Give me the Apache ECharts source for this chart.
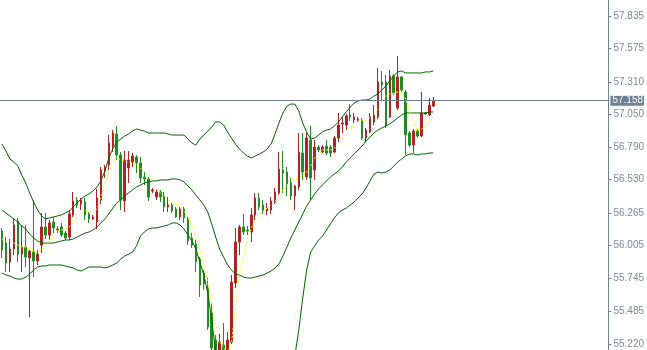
<!DOCTYPE html>
<html><head><meta charset="utf-8">
<script src="https://cdn.jsdelivr.net/npm/echarts@6/dist/echarts.min.js"></script>
<style>html,body{margin:0;padding:0;background:#fff;}#c{width:647px;height:350px;}</style>
</head><body><div id="c"></div>
<script>
const slotCount = 154;
const categories = Array.from({length: slotCount}, (_, i) => 'B' + i);
const opens = [
56.121,56.025,55.874,55.977,56.201,55.937,55.993,55.905,55.953,55.882,
56.009,56.153,56.089,56.193,56.137,56.153,56.105,56.073,56.249,56.368,
56.336,56.352,56.257,56.217,56.193,56.368,56.599,56.647,56.798,56.894,
56.727,56.360,56.623,56.671,56.711,56.663,56.552,56.536,56.440,56.392,
56.432,56.400,56.312,56.328,56.296,56.233,56.296,56.217,56.065,56.017,
55.897,55.786,55.674,55.467,55.252,55.140,55.212,55.124,55.236,55.706,
56.033,56.153,56.129,56.113,56.249,56.384,56.328,56.280,56.288,56.352,
56.424,56.607,56.591,56.504,56.400,56.472,56.743,56.552,56.846,56.607,
56.790,56.751,56.798,56.790,56.751,56.862,56.974,56.966,57.046,57.006,
56.998,57.006,56.862,56.910,56.990,57.030,57.309,57.309,57.030,57.357,
57.101,57.349,57.229,56.902,56.806,56.918,56.878,57.054,57.046,57.117];
const closes = [
55.969,55.866,55.977,56.169,55.937,55.993,55.913,55.961,55.882,55.937,
56.153,56.089,56.185,56.145,56.129,56.089,56.065,56.257,56.360,56.328,
56.368,56.249,56.217,56.233,56.384,56.607,56.631,56.822,56.902,56.727,
56.368,56.687,56.687,56.719,56.663,56.544,56.536,56.392,56.448,56.432,
56.392,56.312,56.328,56.280,56.233,56.296,56.225,56.041,56.009,55.874,
55.690,55.698,55.355,55.188,55.132,55.236,55.124,55.252,55.714,56.033,
56.153,56.113,56.121,56.249,56.384,56.312,56.280,56.304,56.360,56.432,
56.615,56.583,56.496,56.400,56.480,56.751,56.591,56.862,56.544,56.790,
56.767,56.790,56.743,56.743,56.862,56.966,56.982,57.038,57.030,57.030,
57.014,56.862,56.926,57.030,57.046,57.309,57.285,56.958,57.357,57.221,
57.349,57.245,56.886,56.806,56.918,56.878,57.062,57.062,57.125,57.158];
const lows = [
55.905,55.794,55.794,55.929,55.874,55.794,55.834,55.435,55.754,55.850,
55.945,56.057,56.049,56.105,56.105,56.073,56.049,56.049,56.233,56.304,
56.288,56.209,56.185,56.209,56.137,56.336,56.544,56.607,56.751,56.687,
56.288,56.272,56.504,56.631,56.583,56.504,56.488,56.360,56.424,56.368,
56.352,56.272,56.272,56.265,56.225,56.209,56.185,56.009,55.985,55.794,
55.595,55.651,55.332,55.156,55.092,55.108,55.076,55.092,55.220,55.666,
55.929,56.089,56.089,56.033,56.209,56.288,56.257,56.249,56.257,56.336,
56.408,56.424,56.400,56.368,56.288,56.448,56.528,56.528,56.368,56.528,
56.751,56.743,56.727,56.711,56.743,56.830,56.902,56.926,56.998,56.982,
56.990,56.846,56.830,56.902,56.966,57.014,57.165,56.942,57.022,57.205,
57.086,57.229,56.727,56.790,56.743,56.862,56.870,57.046,57.038,57.110];
const highs = [
56.145,56.073,56.057,56.225,56.225,56.169,56.169,55.969,56.368,55.969,
56.265,56.265,56.209,56.233,56.161,56.185,56.121,56.288,56.432,56.392,
56.384,56.384,56.272,56.249,56.456,56.631,56.647,56.886,56.926,56.958,
56.751,56.759,56.759,56.743,56.727,56.711,56.591,56.552,56.464,56.448,
56.448,56.432,56.392,56.344,56.312,56.312,56.312,56.233,56.105,56.049,
55.913,55.810,55.746,55.547,55.292,55.300,55.387,55.316,55.770,56.145,
56.169,56.257,56.161,56.304,56.424,56.424,56.368,56.344,56.392,56.464,
56.751,56.759,56.631,56.544,56.488,56.902,56.902,56.902,56.958,56.846,
56.806,56.806,56.846,56.806,56.878,57.062,57.030,57.054,57.133,57.062,
57.030,57.022,56.942,57.062,57.125,57.421,57.397,57.365,57.405,57.373,
57.516,57.357,57.245,56.918,56.934,56.934,57.229,57.070,57.181,57.189];
const upperBand = [
56.814,56.759,56.695,56.671,56.639,56.567,56.504,56.424,56.352,56.288,
56.241,56.217,56.225,56.233,56.241,56.249,56.265,56.280,56.312,56.344,
56.376,56.400,56.416,56.440,56.472,56.520,56.599,56.703,56.775,56.830,
56.854,56.878,56.894,56.918,56.934,56.926,56.918,56.902,56.902,56.902,
56.902,56.902,56.894,56.886,56.886,56.886,56.886,56.854,56.822,56.806,
56.854,56.886,56.918,56.950,56.990,56.990,56.966,56.910,56.862,56.814,
56.775,56.743,56.719,56.703,56.719,56.735,56.751,56.775,56.814,56.894,
56.982,57.062,57.117,57.133,57.133,57.078,56.982,56.910,56.854,56.862,
56.886,56.910,56.926,56.934,56.958,56.990,57.030,57.070,57.109,57.141,
57.157,57.165,57.165,57.173,57.197,57.213,57.245,57.277,57.317,57.357,
57.389,57.397,57.381,57.381,57.381,57.381,57.381,57.389,57.389,57.397];
const middleBand = [
56.288,56.265,56.241,56.217,56.193,56.161,56.137,56.097,56.065,56.041,
56.025,56.025,56.025,56.025,56.033,56.041,56.049,56.049,56.057,56.073,
56.089,56.105,56.113,56.129,56.153,56.185,56.217,56.257,56.304,56.344,
56.368,56.400,56.424,56.448,56.472,56.488,56.504,56.512,56.520,56.520,
56.528,56.528,56.528,56.536,56.536,56.528,56.512,56.480,56.448,56.408,
56.368,56.328,56.272,56.177,56.073,55.977,55.913,55.850,55.810,55.778,
55.770,55.754,55.746,55.746,55.754,55.762,55.770,55.786,55.802,55.826,
55.858,55.921,55.993,56.065,56.129,56.193,56.257,56.320,56.368,56.416,
56.456,56.488,56.520,56.552,56.575,56.599,56.631,56.671,56.703,56.735,
56.767,56.798,56.838,56.870,56.902,56.926,56.942,56.958,56.974,56.998,
57.022,57.046,57.062,57.062,57.062,57.062,57.062,57.062,57.070,57.070];
const lowerBand = [
55.786,55.770,55.762,55.746,55.738,55.738,55.754,55.778,55.810,55.834,
55.842,55.842,55.850,55.850,55.850,55.850,55.842,55.834,55.826,55.810,
55.802,55.818,55.834,55.834,55.834,55.834,55.826,55.834,55.850,55.866,
55.897,55.921,55.937,55.953,56.001,56.081,56.113,56.137,56.145,56.145,
56.153,56.161,56.169,56.185,56.185,56.169,56.137,56.089,56.041,55.977,
55.874,55.770,55.627,55.411,55.156,54.965,54.853,54.790,54.758,54.742,
54.758,54.766,54.774,54.790,54.790,54.790,54.790,54.798,54.790,54.758,
54.734,54.782,54.869,54.997,55.124,55.332,55.587,55.810,55.953,56.001,
56.049,56.081,56.129,56.177,56.225,56.265,56.288,56.304,56.328,56.352,
56.384,56.416,56.464,56.520,56.575,56.591,56.583,56.591,56.607,56.639,
56.671,56.695,56.719,56.735,56.735,56.727,56.735,56.735,56.743,56.743];
const fastMA = [
56.057,56.049,56.041,56.025,56.009,55.993,55.993,55.977,55.961,55.953,
55.969,56.001,56.049,56.097,56.121,56.129,56.137,56.153,56.193,56.233,
56.265,56.288,56.280,56.265,56.296,56.384,56.496,56.599,56.671,56.711,
56.687,56.679,56.671,56.663,56.647,56.623,56.583,56.575,56.520,56.464,
56.424,56.392,56.368,56.352,56.336,56.320,56.280,56.233,56.161,56.073,
55.969,55.866,55.714,55.547,55.372,55.236,55.188,55.156,55.228,55.515,
55.762,55.905,56.049,56.145,56.209,56.249,56.280,56.304,56.328,56.360,
56.400,56.448,56.488,56.528,56.536,56.544,56.559,56.591,56.639,56.703,
56.735,56.767,56.767,56.767,56.782,56.814,56.854,56.894,56.934,56.974,
56.998,57.006,56.998,57.022,57.054,57.094,57.149,57.197,57.213,57.221,
57.229,57.229,57.173,57.086,56.990,56.918,56.934,56.958,56.990,57.030];
const tickValues = [57.835,57.575,57.310,57.050,56.790,56.530,56.265,56.005,55.745,55.485,55.220];
const currentPrice = 57.158;
const axisMin = 55.1722, axisMax = 57.9626;

const candleData = opens.map((o, i) => [o, closes[i], lows[i], highs[i]]);
const FG = '#6f8092';

const chart = echarts.init(document.getElementById('c'), null, {renderer: 'canvas'});
chart.setOption({
  animation: false,
  backgroundColor: '#ffffff',
  grid: {left: -2.5, top: 0, width: 616, height: 350, containLabel: false},
  xAxis: {
    type: 'category', data: categories, boundaryGap: true,
    axisLine: {show: false}, axisTick: {show: false}, axisLabel: {show: false}, splitLine: {show: false}
  },
  yAxis: {
    type: 'value', position: 'right', min: axisMin, max: axisMax, offset: -1, scale: true,
    axisLine: {show: true, lineStyle: {color: FG, width: 1}},
    axisTick: {show: true, length: 3, customValues: tickValues, lineStyle: {color: FG}},
    axisLabel: {show: true, customValues: tickValues, margin: 5, color: '#7b8a9a',
      fontFamily: 'Liberation Sans', fontSize: 10, formatter: v => v.toFixed(3)},
    splitLine: {show: false}
  },
  series: [
    {
      type: 'line', data: [], z: 1, silent: true,
      markLine: {
        silent: true, symbol: ['none', 'none'], animation: false,
        lineStyle: {color: FG, width: 1, type: 'solid'},
        label: {show: true, position: 'end', distance: 1, formatter: currentPrice.toFixed(3),
          color: '#ffffff', backgroundColor: FG, fontFamily: 'Liberation Sans', fontSize: 10,
          lineHeight: 10, padding: [0, 1, 0, 2]},
        data: [{yAxis: currentPrice}]
      }
    },
    {
      type: 'candlestick', data: candleData, z: 2, barWidth: 2,
      itemStyle: {color: '#b22222', color0: '#228b22', borderColor: '#b22222', borderColor0: '#228b22', borderWidth: 1}
    },
    {type: 'line', data: upperBand, z: 3, symbol: 'none', lineStyle: {color: '#006400', width: 1}},
    {type: 'line', data: middleBand, z: 3, symbol: 'none', lineStyle: {color: '#006400', width: 1}},
    {type: 'line', data: lowerBand, z: 3, symbol: 'none', lineStyle: {color: '#006400', width: 1}},
    {type: 'line', data: fastMA, z: 4, symbol: 'none', lineStyle: {color: '#ffff00', width: 1, type: [2, 2]}}
  ]
});
</script></body></html>
